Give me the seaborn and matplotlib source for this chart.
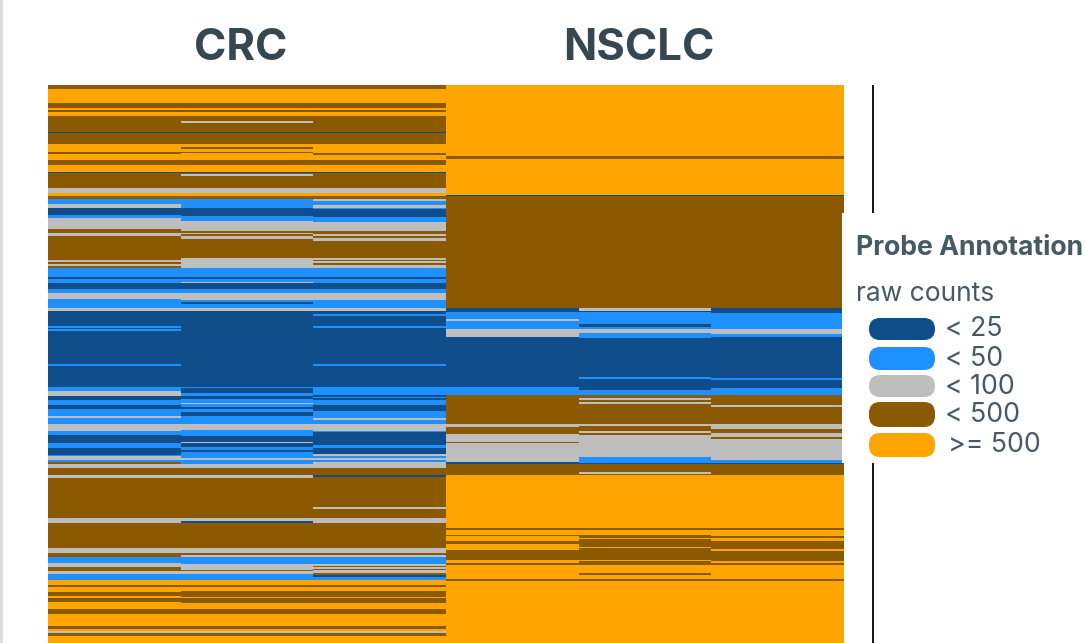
import numpy as np
import pandas as pd
import seaborn as sns
import matplotlib
matplotlib.use("Agg")
import matplotlib.pyplot as plt
from matplotlib.colors import ListedColormap
from matplotlib.patches import FancyBboxPatch, Rectangle

# Count level codes: 0 "< 25", 1 "< 50", 2 "< 100", 3 "< 500", 4 ">= 500"
legend_labels = ["< 25", "< 50", "< 100", "< 500", ">= 500"]
level_colors = ["#104E8B", "#1E90FF", "#BEBEBE", "#8B5A00", "#FFA500"]
group_labels = ["CRC", "NSCLC"]
sample_labels = ["CRC_1", "CRC_2", "CRC_3", "NSCLC_1", "NSCLC_2", "NSCLC_3"]
n_probes = 558

# Runs of (level code, number of probes), top to bottom
crc_1 = [(3,4),(4,14),(3,5),(4,2),(3,2),(4,4),(3,16),(0,1),(3,11),(4,8),(3,2),(4,6),(3,5),(4,7),(0,1),(3,15),
         (2,5),(4,3),(3,3),(1,5),(2,4),(0,7),(1,3),(2,11),(3,4),(2,3),(3,24),(2,2),(3,2),(2,2),(3,2),
         (1,9),(0,2),(1,4),(0,6),(1,4),(2,6),(1,9),(2,3),(0,15),(1,2),(0,1),(1,2),(0,33),(1,2),(0,21),
         (1,4),(2,5),(0,4),(1,5),(0,4),(1,7),(2,2),(1,6),(2,7),(1,4),(0,8),(1,5),(0,7),(1,1),(2,4),(1,2),
         (3,2),(2,4),(3,7),(2,3),(3,40),(2,5),(3,25),(2,5),(3,4),(1,6),(2,4),(3,4),(2,3),(1,6),
         (4,5),(3,2),(4,5),(3,4),(4,2),(3,4),(4,7),(3,5),(4,12),(3,3),(4,2),(2,2),(3,3),(4,7)]
crc_2 = [(3,4),(4,14),(3,5),(4,2),(3,2),(4,4),(3,5),(2,2),(3,9),(0,1),(3,11),(4,3),(3,2),(4,3),(3,1),(4,7),(3,5),(4,7),
         (0,1),(3,1),(2,2),(3,12),(2,5),(4,3),(3,3),(1,9),(0,8),(1,5),(2,10),(3,2),(2,1),(3,2),(2,3),(3,19),(2,10),
         (1,9),(0,2),(1,3),(2,1),(0,6),(1,4),(2,7),(1,2),(0,2),(1,4),(2,3),(0,76),(1,1),(0,5),(1,3),(0,3),(1,4),(2,1),(1,3),
         (0,2),(1,3),(0,4),(1,8),(2,6),(1,6),(0,6),(2,1),(0,4),(1,3),(0,2),(1,6),(2,2),(1,4),(2,4),
         (3,7),(2,3),(3,40),(2,3),(0,2),(3,25),(2,5),(3,2),(2,2),(1,7),(2,6),(3,1),(2,3),(1,6),
         (4,5),(3,2),(4,4),(3,6),(4,1),(3,5),(4,6),(3,5),(4,12),(3,3),(4,2),(2,2),(3,3),(4,7)]
crc_3 = [(3,4),(4,14),(3,5),(4,2),(3,2),(4,4),(3,16),(0,1),(3,11),(4,9),(3,2),(4,5),(3,5),(4,7),(0,1),(3,15),
         (2,5),(4,3),(3,3),(2,2),(1,4),(2,3),(1,1),(0,8),(1,5),(2,9),(3,3),(2,2),(3,2),(2,3),(3,17),
         (2,2),(3,1),(2,2),(3,2),(2,3),(1,9),(0,2),(1,4),(0,6),(1,4),(2,7),(1,8),(2,3),(0,3),(1,2),(0,10),(1,2),(0,36),(1,2),(0,21),
         (1,8),(0,2),(1,1),(0,2),(1,5),(0,6),(1,7),(2,2),(1,4),(2,7),(1,1),(0,13),(1,3),(0,6),(2,2),(1,2),(2,2),(1,2),(2,6),
         (3,7),(0,2),(3,30),(2,2),(3,9),(2,5),(3,25),(2,5),(3,2),(2,2),(1,7),(2,2),(3,1),(2,2),(3,1),(2,3),(3,2),(0,2),(1,3),
         (4,5),(3,2),(4,4),(3,6),(4,1),(3,5),(4,6),(3,5),(4,12),(3,3),(4,2),(2,2),(3,3),(4,7)]
nsclc_1 = [(4,71),(3,3),(4,36),(0,1),(3,112),(0,4),(1,7),(2,2),(1,8),(2,8),(0,50),(1,8),(3,29),(2,3),(3,7),(2,8),(3,1),(2,19),(0,2),(3,11),
           (4,53),(3,2),(4,5),(3,1),(4,5),(3,3),(4,6),(3,10),(4,3),(3,2),(4,14),(3,2),(4,62)]
nsclc_2 = [(4,71),(3,3),(4,36),(0,1),(3,112),(2,3),(0,1),(1,12),(0,3),(1,2),(2,4),(1,5),(0,39),(1,2),(0,11),(1,5),
           (3,3),(2,2),(3,2),(2,2),(3,20),(2,2),(3,5),(2,2),(3,2),(2,22),(1,6),(0,1),(3,8),(2,2),(3,1),
           (4,53),(3,2),(4,5),(3,3),(4,1),(3,8),(4,1),(3,12),(4,1),(3,4),(4,8),(3,2),(4,4),(3,2),(4,62)]
nsclc_3 = [(4,71),(3,3),(4,36),(0,1),(3,112),(0,5),(1,16),(2,5),(1,3),(0,41),(1,2),(0,8),(1,7),
           (3,10),(2,2),(3,17),(2,5),(3,4),(2,4),(3,2),(2,21),(1,3),(0,1),(3,11),
           (4,53),(3,2),(4,6),(3,2),(4,3),(3,8),(4,2),(3,10),(4,2),(3,2),(4,14),(3,2),(4,62)]


def expand(runs):
    levels, counts = zip(*runs)
    col = np.repeat(levels, counts)
    if len(col) != n_probes:
        raise ValueError(f"column length {len(col)}")
    return col


W, H = 1085, 643
df = pd.DataFrame(
    {name: expand(r) for name, r in zip(sample_labels, [crc_1, crc_2, crc_3, nsclc_1, nsclc_2, nsclc_3])}
)

sns.set_theme(style="white")
plt.rcParams["font.family"] = ["Inter", "DejaVu Sans"]
fig = plt.figure(figsize=(W / 100, H / 100), dpi=100, facecolor="white")
ax = fig.add_axes([48 / W, 0, (844 - 48) / W, (643 - 85) / H])
sns.heatmap(df, ax=ax, cmap=ListedColormap(level_colors), vmin=-0.5, vmax=4.5, cbar=False,
            xticklabels=False, yticklabels=False, rasterized=True)
ax.set_xlabel("")
ax.set_ylabel("")

title_color = "#37474F"
text_color = "#455A64"
for name, xc in zip(group_labels, [1.455, 4.455]):
    ax.text(xc, -36.5, name, ha="center", va="center", fontsize=31.5, fontweight="bold",
            color=title_color, clip_on=False)

# Overlay in pixel coordinates for page furniture and the legend
ov = fig.add_axes([0, 0, 1, 1], facecolor="none")
ov.set_xlim(0, W)
ov.set_ylim(H, 0)
ov.axis("off")
ov.add_patch(Rectangle((0, 0), 3, H, color="#DDDDDD", lw=0))
ov.plot([872.5, 872.5], [85, H], color="black", lw=1.3, solid_capstyle="butt")
ov.add_patch(Rectangle((842, 213), W - 842, 250, color="white", lw=0, zorder=3))
ov.text(856, 248, "Probe Annotation", fontsize=19.2, fontweight="bold", color=text_color,
        va="center", ha="left", zorder=4)
ov.text(856, 294, "raw counts", fontsize=19, color=text_color, va="center", ha="left", zorder=4)
pill_y = [(318, 340), (347, 370), (375, 397), (402, 427), (433, 457)]
text_x = [945, 945, 945, 945, 948]
for (y0, y1), col, lab, tx in zip(pill_y, level_colors, legend_labels, text_x):
    ov.add_patch(FancyBboxPatch((869 + 10, y0 + 10), 66 - 20, y1 - y0 - 20,
                                boxstyle="round,pad=10,rounding_size=11", fc=col, ec="none", zorder=4))
    ov.text(tx, (y0 + y1) / 2 + 0.5, lab, fontsize=19.2, color=text_color, va="center", ha="left", zorder=4)

fig.savefig("out.png", dpi=100)
